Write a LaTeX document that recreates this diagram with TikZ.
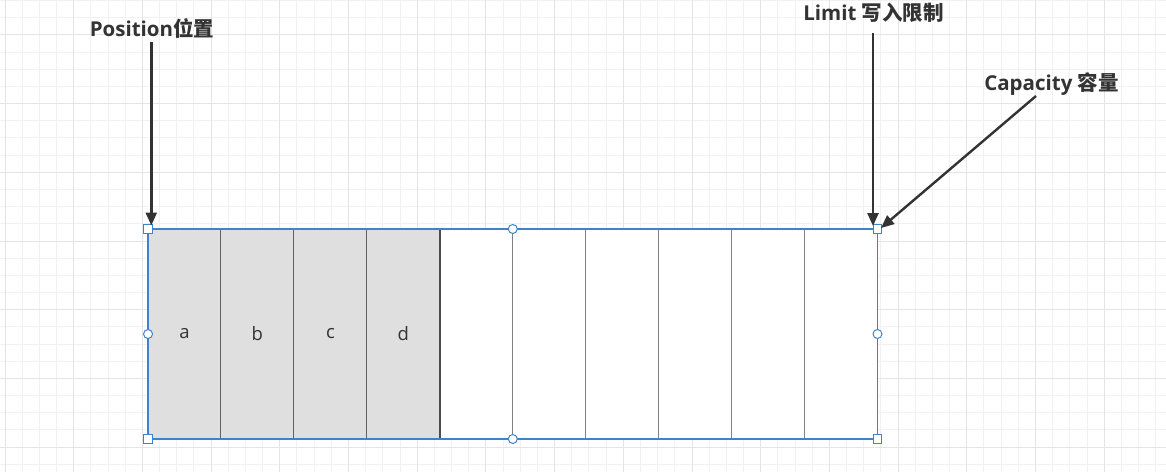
\documentclass[tikz,border=0pt]{standalone}
\usepackage{fontspec}
\setmainfont{Open Sans}
\newfontfamily\cjk{Noto Sans CJK SC}
\usetikzlibrary{arrows.meta}
\definecolor{gridminor}{HTML}{F1F1F1}
\definecolor{gridmajor}{HTML}{E4E4E4}
\definecolor{selblue}{HTML}{3F82CF}
\definecolor{cellgray}{HTML}{DFDFDF}
\definecolor{inkdark}{HTML}{333333}
\tikzset{
  cellbox/.style={draw=black!50, line width=1pt, fill=white, minimum width=72.95pt, minimum height=210pt, inner sep=0pt, outer sep=0pt, font=\fontsize{18.5}{20}\selectfont, text=inkdark},
  grayboxx/.style={cellbox, fill=cellgray, draw=black!62},
  hsq/.style={draw=selblue, fill=white, line width=1pt, rectangle, minimum size=8.5pt, inner sep=0pt},
  hcirc/.style={draw=selblue, fill=white, line width=1pt, circle, minimum size=9pt, inner sep=0pt},
  arr/.style={draw=inkdark, line width=2.4pt, -{Triangle[length=13pt,width=11pt]}},
  lab/.style={font=\fontsize{20.5}{22}\selectfont\bfseries, text=inkdark, inner sep=0pt, anchor=base},
}
\begin{document}
\begin{tikzpicture}[x=1pt,y=-1pt]
\useasboundingbox (0,0) rectangle (1166,472);
\fill[white] (0,0) rectangle (1166,472);
% grid
\foreach \k in {0,...,67} \draw[gridminor, line width=1pt] ({5+\k*17.175},0) -- ({5+\k*17.175},472);
\foreach \k in {0,...,27} \draw[gridminor, line width=1pt] (0,{0.55+\k*17.175}) -- (1166,{0.55+\k*17.175});
\foreach \k in {0,...,16} \draw[gridmajor, line width=1pt] ({5+\k*68.7},0) -- ({5+\k*68.7},472);
\foreach \k in {0,...,6} \draw[gridmajor, line width=1pt] (0,{34.9+\k*68.7}) -- (1166,{34.9+\k*68.7});
% cells
\node[cellbox] (c5) at (476.3,334) {};
\node[cellbox] (c6) at (549.2,334) {};
\node[cellbox] (c7) at (622.2,334) {};
\node[cellbox] (c8) at (695.1,334) {};
\node[cellbox] (c9) at (768.1,334) {};
\node[cellbox] (c10) at (841.0,334) {};
\node[grayboxx] (c1) at (184.5,334) {a};
\node[grayboxx] (c2) at (257.4,334) {b};
\node[grayboxx] (c3) at (330.4,334) {c};
\node[grayboxx] (c4) at (403.3,334) {d};
\draw[black!70, line width=1.6pt] (c4.north east) -- (c4.south east);
% selection outline
\draw[selblue, line width=1.2pt] (c1.north west) rectangle (c10.south east);
% handles
\node[hsq] (tl) at (c1.north west) {};
\node[hsq] (tr) at (c10.north east) {};
\node[hsq] (bl) at (c1.south west) {};
\node[hsq] (br) at (c10.south east) {};
\node[hcirc] (ml) at (c1.west) {};
\node[hcirc] (mr) at (c10.east) {};
\node[hcirc] (mt) at (c5.north east) {};
\node[hcirc] (mb) at (c5.south east) {};
% labels
\node[lab] (lpos) at (152,36) {Position{\cjk 位置}};
\node[lab] (llim) at (873.5,20.7) {Limit {\cjk 写入限制}};
\node[lab] (lcap) at (1051.5,90.7) {Capacity {\cjk 容量}};
% arrows
\coordinate (ps) at (151.3,41.7);
\coordinate (pe) at (151.3,225.5);
\coordinate (ls) at (873,33.3);
\coordinate (le) at (873,226);
\coordinate (cs) at (1036,96);
\coordinate (ce) at (881,228);
\draw[arr] (ps) -- (pe);
\draw[arr] (ls) -- (le);
\draw[arr] (cs) -- (ce);
\end{tikzpicture}
\end{document}
